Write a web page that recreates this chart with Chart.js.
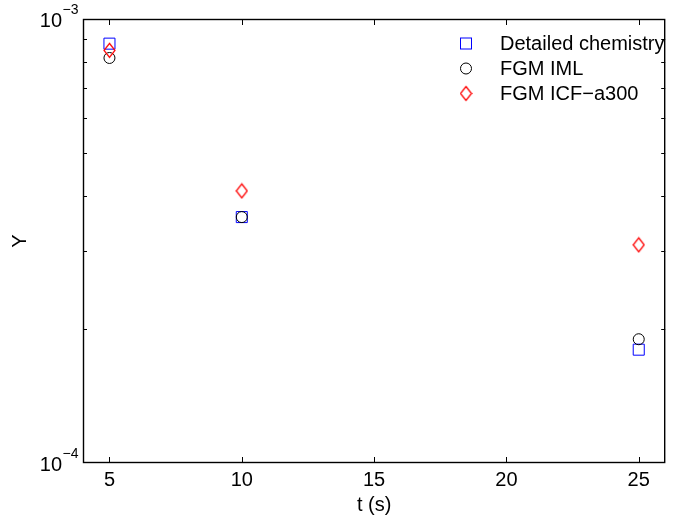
<!DOCTYPE html>
<html>
<head>
<meta charset="utf-8">
<script src="https://cdn.jsdelivr.net/npm/chart.js@4/dist/chart.umd.min.js"></script>
<style>
  body { margin: 0; background: #fff; }
  canvas { display: block; }
</style>
</head>
<body>
<canvas id="myChart" width="674" height="517"></canvas>
<script>
// data
var times = [5, 10, 25];
var detailed = [8.8e-4, 3.58e-4, 1.80e-4];
var fgmIml = [8.17e-4, 3.58e-4, 1.90e-4];
var fgmIcf = [8.5e-4, 4.1e-4, 3.1e-4];
var seriesNames = ['Detailed chemistry', 'FGM IML', 'FGM ICF\u2212a300'];
var xTicks = [5, 10, 15, 20, 25];
var yMajor = [1e-4, 1e-3];
var yMinor = [2e-4, 3e-4, 4e-4, 5e-4, 6e-4, 7e-4, 8e-4, 9e-4];
var yExp = ['\u22124', '\u22123'];

var FONT = 'Liberation Sans, Arial, Helvetica, sans-serif';

function pts(vals) {
    return times.map(function (t, i) { return { x: t, y: vals[i] }; });
}

// MATLAB style diamond is a bit taller than wide
function diamond(color) {
    var c = document.createElement('canvas');
    c.width = 13; c.height = 17;
    var g = c.getContext('2d');
    g.strokeStyle = color;
    g.lineWidth = 1.25;
    g.beginPath();
    g.moveTo(6.5, 1.5);
    g.lineTo(12, 8.5);
    g.lineTo(6.5, 15.5);
    g.lineTo(1, 8.5);
    g.closePath();
    g.stroke();
    return c;
}
var redDiamond = diamond('#ff0000');

var axesPlugin = {
    id: 'matlabAxes',
    beforeDatasetsDraw: function (chart) {
        var ctx = chart.ctx, a = chart.chartArea;
        var xs = chart.scales.x, ys = chart.scales.y;
        ctx.save();
        ctx.strokeStyle = '#000';
        ctx.lineWidth = 1;
        ctx.beginPath();
        xTicks.forEach(function (v) {
            var px = Math.round(xs.getPixelForValue(v)) + 0.5;
            ctx.moveTo(px, a.bottom); ctx.lineTo(px, a.bottom - 6);
            ctx.moveTo(px, a.top); ctx.lineTo(px, a.top + 6);
        });
        yMinor.forEach(function (v) {
            var py = Math.round(ys.getPixelForValue(v)) + 0.5;
            ctx.moveTo(a.left, py); ctx.lineTo(a.left + 4, py);
            ctx.moveTo(a.right, py); ctx.lineTo(a.right - 4, py);
        });
        ctx.stroke();
        ctx.lineWidth = 1.4;
        ctx.strokeRect(a.left + 0.5, a.top + 0.5, a.right - a.left - 1, a.bottom - a.top - 1);
        ctx.restore();
    },
    afterDraw: function (chart) {
        var ctx = chart.ctx;
        var ys = chart.scales.y;
        ctx.save();
        ctx.fillStyle = '#000';
        // y tick labels 10^-4, 10^-3
        yMajor.forEach(function (v, i) {
            var py = ys.getPixelForValue(v);
            ctx.font = '20px ' + FONT;
            ctx.textAlign = 'right';
            ctx.textBaseline = 'middle';
            ctx.fillText('10', 62, py + 2);
            ctx.font = '14px ' + FONT;
            ctx.textAlign = 'left';
            ctx.fillText(yExp[i], 62.5, py - 9);
        });
        // legend
        var lx = 466, ly = [43.5, 68.5, 93.5];
        ctx.lineWidth = 1;
        ctx.strokeStyle = '#0000ff';
        ctx.strokeRect(lx - 5.5, ly[0] - 5.5, 11, 11);
        ctx.strokeStyle = '#000';
        ctx.beginPath();
        ctx.arc(lx, ly[1], 5.5, 0, Math.PI * 2);
        ctx.stroke();
        ctx.drawImage(redDiamond, lx - 6.5, ly[2] - 8.5);
        ctx.font = '20px ' + FONT;
        ctx.textAlign = 'left';
        ctx.textBaseline = 'middle';
        seriesNames.forEach(function (n, i) {
            ctx.fillText(n, 500, ly[i] + 1);
        });
        ctx.restore();
    }
};

var ctx = document.getElementById('myChart').getContext('2d');
var myChart = new Chart(ctx, {
    type: 'scatter',
    data: {
        datasets: [{
            label: seriesNames[0],
            data: pts(detailed),
            pointStyle: 'rect',
            pointRadius: 7.8,
            pointBorderColor: '#0000ff',
            pointBackgroundColor: 'rgba(0,0,0,0)',
            pointBorderWidth: 1,
            order: 2
        }, {
            label: seriesNames[1],
            data: pts(fgmIml),
            pointStyle: 'circle',
            pointRadius: 5.5,
            pointBorderColor: '#000000',
            pointBackgroundColor: 'rgba(0,0,0,0)',
            pointBorderWidth: 1,
            order: 1
        }, {
            label: seriesNames[2],
            data: pts(fgmIcf),
            pointStyle: redDiamond,
            pointRadius: 7,
            order: 0
        }]
    },
    plugins: [axesPlugin],
    options: {
        responsive: false,
        animation: false,
        devicePixelRatio: 1,
        layout: { padding: { top: 19, right: 1, left: 0, bottom: 0 } },
        plugins: { legend: { display: false }, tooltip: { enabled: false } },
        scales: {
            x: {
                type: 'linear',
                min: 4,
                max: 26,
                grid: { display: false, drawTicks: false },
                border: { display: false },
                afterBuildTicks: function (s) {
                    s.ticks = xTicks.map(function (v) { return { value: v }; });
                },
                afterFit: function (s) { s.height = 54; },
                ticks: {
                    color: '#000',
                    padding: 5,
                    maxRotation: 0,
                    font: { family: FONT, size: 20 }
                },
                title: {
                    display: true,
                    text: 't (s)',
                    color: '#000',
                    padding: { top: 0, bottom: 0 },
                    font: { family: FONT, size: 20 }
                }
            },
            y: {
                type: 'logarithmic',
                min: 1e-4,
                max: 1e-3,
                grid: { display: false, drawTicks: false },
                border: { display: false },
                ticks: { display: false },
                afterFit: function (s) { s.width = 83; },
                title: {
                    display: true,
                    text: 'Y',
                    color: '#000',
                    padding: { top: 8, bottom: 0 },
                    font: { family: FONT, size: 20 }
                }
            }
        }
    }
});
</script>
</body>
</html>
